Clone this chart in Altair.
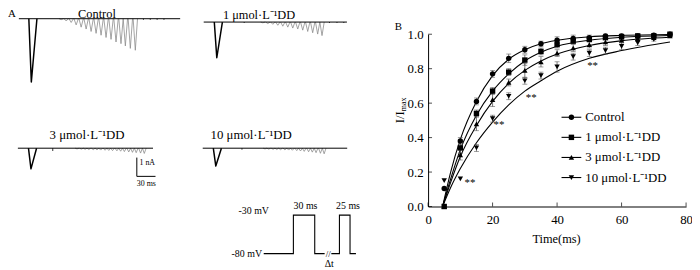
import altair as alt
import pandas as pd

FONT = "Liberation Serif"
W, H = 700, 270
PAD = -8          # cancels the page margin so chart pixels = figure pixels
GRAY = "#8c8c8c"

# ---------------- Panel B: recovery curves ----------------
SERIES = ["Control", "1 μmol·L⁻¹DD", "3 μmol·L⁻¹DD", "10 μmol·L⁻¹DD"]
SHAPES = ["circle", "square", "triangle-up", "triangle-down"]
T_PTS = [5, 10, 15, 20, 25, 30, 35, 40, 45, 50, 55, 60, 65, 70, 75]
V_CTRL = [0.105, 0.38, 0.61, 0.77, 0.86, 0.91, 0.945, 0.965, 0.975, 0.98, 0.99, 0.99, 0.99, 0.995, 1.0]
V_DD1 = [0.0, 0.34, 0.54, 0.67, 0.78, 0.85, 0.90, 0.94, 0.96, 0.97, 0.98, 0.985, 0.99, 0.99, 1.0]
V_DD3 = [0.0, 0.30, 0.48, 0.62, 0.72, 0.79, 0.84, 0.89, 0.92, 0.94, 0.955, 0.965, 0.975, 0.98, 0.99]
V_DD10 = [0.15, 0.16, 0.34, 0.51, 0.64, 0.73, 0.76, 0.81, 0.87, 0.89, 0.905, 0.93, 0.95, 0.97, None]
E_CTRL = [0, 0.02, 0.02, 0.02, 0.025, 0.02, 0.015, 0.02, 0.02, 0.015, 0.01, 0.01, 0.01, 0, 0]
E_DD1 = [0, 0.03, 0.02, 0.02, 0.02, 0.03, 0.02, 0.02, 0.015, 0.015, 0.01, 0.015, 0.01, 0.01, 0]
E_DD3 = [0, 0.03, 0.04, 0.04, 0.02, 0.04, 0.03, 0.02, 0.02, 0.02, 0.02, 0.015, 0.015, 0.01, 0.01]
E_DD10 = [0, 0, 0.02, 0.02, 0.02, 0.02, 0.02, 0.03, 0.02, 0.02, 0.02, 0.02, 0.015, 0.01, None]

T_FIT = [4.5, 7, 10, 15, 20, 25, 30, 35, 40, 50, 60, 75]
F_CTRL = [0, 0.20, 0.39, 0.61, 0.76, 0.855, 0.91, 0.945, 0.965, 0.985, 0.993, 0.998]
F_DD1 = [0, 0.16, 0.33, 0.53, 0.67, 0.77, 0.845, 0.895, 0.93, 0.965, 0.982, 0.993]
F_DD3 = [0, 0.14, 0.29, 0.47, 0.61, 0.715, 0.79, 0.845, 0.885, 0.935, 0.962, 0.982]
F_DD10 = [0, 0.11, 0.22, 0.37, 0.49, 0.59, 0.67, 0.73, 0.785, 0.86, 0.905, 0.955]

STAR_T = [13, 22, 32, 51]
STAR_V = [0.155, 0.49, 0.645, 0.83]

X_TICKS = [0, 20, 40, 60, 80]
Y_TICKS = [0.0, 0.2, 0.4, 0.6, 0.8, 1.0]

# ---------------- Panel A: current traces (ms, nA) ----------------
C_MAIN = (20, 3.37)
C_GRAY_T = [68, 76, 84, 92, 100, 108, 116, 124, 132, 140, 148, 156, 164, 171, 179, 187]
C_GRAY_A = [0.05, 0.12, 0.2, 0.33, 0.45, 0.55, 0.68, 0.78, 0.88, 1.0, 1.1, 1.24, 1.33, 1.45, 1.58, 1.68]
C_TICK_T = [200, 211, 222, 233]
C_TICK_A = [0.06, 0.06, 0.06, 0.06]
C_END = 259

D1_MAIN = (21, 1.9)
D1_GRAY_T = [95, 103, 111, 119, 127, 135, 143, 151, 159, 167, 175, 183, 190]
D1_GRAY_A = [0.04, 0.08, 0.12, 0.17, 0.22, 0.27, 0.32, 0.37, 0.43, 0.5, 0.57, 0.64, 0.72]
D1_TICK_T = [65, 202, 214, 225]
D1_TICK_A = [0.05, 0.05, 0.05, 0.05]
D1_END = 230

D3_MAIN = (21, 1.1)
D3_GRAY_T = [95, 102, 108, 114, 121, 127, 133, 140, 146, 152, 159, 165, 171, 178, 184, 190, 197, 203]
D3_GRAY_A = [0.04, 0.05, 0.06, 0.07, 0.08, 0.09, 0.1, 0.11, 0.12, 0.13, 0.14, 0.16, 0.18, 0.2, 0.22, 0.24, 0.26, 0.28]
D3_TICK_T = [56]
D3_TICK_A = [0.15]
D3_END = 217

D10_MAIN = (21, 0.95)
D10_GRAY_T = [100, 106, 113, 119, 125, 132, 138, 144, 151, 157, 163, 170, 176, 182, 189, 195]
D10_GRAY_A = [0.04, 0.05, 0.06, 0.07, 0.08, 0.09, 0.1, 0.11, 0.13, 0.15, 0.17, 0.19, 0.21, 0.24, 0.27, 0.3]
D10_TICK_T = [63]
D10_TICK_A = [0.08]
D10_END = 232

SCALEBAR_T = [191, 191, 221]      # 30 ms
SCALEBAR_I = [-0.5, -1.5, -1.5]   # 1 nA

PROTO_T = [0, 41.7, 41.7, 71.7, 71.7, 85.6, 95, 106.4, 106.4, 121.3, 121.3, 129.6]
PROTO_V = [-80, -80, -30, -30, -80, -80, -80, -80, -30, -30, -80, -80]
PROTO_SEG = [0, 0, 0, 0, 0, 0, 1, 1, 1, 1, 1, 1]

PX_MS = 0.63
PX_NA = 19.0

layers = []


def text(txt, x, y, size=13, align="center", angle=0, baseline="middle", font=FONT):
    return alt.Chart(pd.DataFrame({"s": [txt]})).mark_text(
        font=font, fontSize=size, align=align, baseline=baseline, angle=angle, color="black", fill="black"
    ).encode(text="s:N", x=alt.value(x), y=alt.value(y))


# ---- Panel A traces ----
def trace_rows(main, gray_t, gray_a, tick_t, tick_a, end, half):
    rows = []

    def seg(name, pts, col, w):
        for k, (t, i) in enumerate(pts):
            rows.append(dict(seg=name, k=k, t=t, i=i, col=col, w=w))

    for n, (t, a) in enumerate(zip(gray_t, gray_a)):
        seg(f"g{n:02d}", [(t - half, 0), (t, -a), (t + half, 0)], GRAY, 0.8)
    for n, (t, a) in enumerate(zip(tick_t, tick_a)):
        seg(f"k{n:02d}", [(t, 0), (t, -a)], "black", 0.8)
    seg("zbase", [(0, 0), (end, 0)], "black", 1.0)
    mt, ma = main
    seg("zmain", [(mt - 4, 0), (mt, -ma), (mt + 9, 0)], "black", 1.5)
    return pd.DataFrame(rows)


def trace_chart(df, x0, y0, end):
    xs = alt.Scale(domain=[0, end], range=[x0, x0 + end * PX_MS], nice=False, zero=False)
    ys = alt.Scale(domain=[-1, 0], range=[y0 + PX_NA, y0], nice=False, zero=False)
    return alt.Chart(df).mark_line(strokeJoin="round").encode(
        x=alt.X("t:Q", scale=xs, axis=None),
        y=alt.Y("i:Q", scale=ys, axis=None),
        detail="seg:N",
        order="k:Q",
        color=alt.Color("col:N", scale=None),
        strokeWidth=alt.StrokeWidth("w:Q", scale=None),
    ), xs, ys


ch, _, _ = trace_chart(trace_rows(C_MAIN, C_GRAY_T, C_GRAY_A, C_TICK_T, C_TICK_A, C_END, 3.5), 19, 17.3, C_END)
layers.append(ch)
ch, _, _ = trace_chart(trace_rows(D1_MAIN, D1_GRAY_T, D1_GRAY_A, D1_TICK_T, D1_TICK_A, D1_END, 3.5), 206, 20.7, D1_END)
layers.append(ch)
ch, xs3, ys3 = trace_chart(trace_rows(D3_MAIN, D3_GRAY_T, D3_GRAY_A, D3_TICK_T, D3_TICK_A, D3_END, 3.0), 18, 148.3, D3_END)
layers.append(ch)
ch, _, _ = trace_chart(trace_rows(D10_MAIN, D10_GRAY_T, D10_GRAY_A, D10_TICK_T, D10_TICK_A, D10_END, 3.0), 205, 148.3, D10_END)
layers.append(ch)

# scale bar drawn in the 3 µmol trace's own units
sb = pd.DataFrame({"t": SCALEBAR_T, "i": SCALEBAR_I, "k": [0, 1, 2]})
layers.append(alt.Chart(sb).mark_line(color="black", strokeWidth=1).encode(
    x=alt.X("t:Q", scale=xs3, axis=None), y=alt.Y("i:Q", scale=ys3, axis=None), order="k:Q"))

# voltage protocol
pr = pd.DataFrame({"t": PROTO_T, "v": PROTO_V, "seg": PROTO_SEG, "k": list(range(len(PROTO_T)))})
layers.append(alt.Chart(pr).mark_line(color="black", strokeWidth=1.1).encode(
    x=alt.X("t:Q", scale=alt.Scale(domain=[0, 100], range=[266.7, 338.7], nice=False, zero=False), axis=None),
    y=alt.Y("v:Q", scale=alt.Scale(domain=[-80, -30], range=[255, 216], nice=False, zero=False), axis=None),
    detail="seg:N", order="k:Q"))

layers += [
    text("A", 8, 13, 11, align="left"),
    text("Control", 98, 16.5, 12.5, baseline="alphabetic"),
    text("1 μmol·L⁻¹DD", 262, 18, 12.5, baseline="alphabetic"),
    text("3 μmol·L⁻¹DD", 88, 135, 13),
    text("10 μmol·L⁻¹DD", 254, 135, 13),
    text("1 nA", 141, 163, 8, align="left"),
    text("30 ms", 148, 185, 8),
    text("-30 mV", 272, 212, 10, align="right"),
    text("-80 mV", 265, 255, 10, align="right"),
    text("30 ms", 309, 207, 10),
    text("25 ms", 352, 207, 10),
    text("//", 332, 255, 9),
    text("Δt", 333, 265, 10),
]

# ---- Panel B ----
XB = alt.Scale(domain=[0, 80], range=[433, 694], nice=False, zero=False)
YB = alt.Scale(domain=[0, 1], range=[207.3, 33], nice=False, zero=False)

AX_X = alt.Axis(orient="bottom", offset=207.3 - H, values=X_TICKS, format="d", ticks=False, tickSize=0,
                labelPadding=7, domainColor="black", domainWidth=1, labelColor="black", labelFont=FONT,
                labelFontSize=13, labelFlush=False, labelOverlap=False, title=None, grid=False)
AX_Y = alt.Axis(orient="left", offset=-433, values=Y_TICKS, format=".1f", ticks=False, tickSize=0,
                labelPadding=5, domainColor="black", domainWidth=1, labelColor="black", labelFont=FONT,
                labelFontSize=13, labelFlush=False, labelOverlap=False, title=None, grid=False)

fit = pd.concat([
    pd.DataFrame({"series": s, "t": T_FIT, "v": v})
    for s, v in zip(SERIES, [F_CTRL, F_DD1, F_DD3, F_DD10])
])
pts = pd.concat([
    pd.DataFrame({"series": s, "t": T_PTS, "v": v, "e": e})
    for s, v, e in zip(SERIES, [V_CTRL, V_DD1, V_DD3, V_DD10], [E_CTRL, E_DD1, E_DD3, E_DD10])
]).dropna()
pts["lo"] = pts["v"] - pts["e"]
pts["hi"] = pts["v"] + pts["e"]
err = pts[pts["e"] > 0]

layers.append(alt.Chart(fit).mark_line(color="black", strokeWidth=1.1, interpolate="monotone").encode(
    x=alt.X("t:Q", scale=XB, axis=AX_X), y=alt.Y("v:Q", scale=YB, axis=AX_Y), detail="series:N"))

layers.append(alt.Chart(err).mark_rule(color="#555555", strokeWidth=0.8).encode(
    x=alt.X("t:Q", scale=XB, axis=None), y=alt.Y("lo:Q", scale=YB, axis=None), y2="hi:Q"))
for col in ["lo", "hi"]:
    layers.append(alt.Chart(err).mark_tick(orient="horizontal", size=5, thickness=0.8, color="#555555").encode(
        x=alt.X("t:Q", scale=XB, axis=None), y=alt.Y(f"{col}:Q", scale=YB, axis=None)))

layers.append(alt.Chart(pts).mark_point(filled=True, size=30, color="black", opacity=1).encode(
    x=alt.X("t:Q", scale=XB, axis=None), y=alt.Y("v:Q", scale=YB, axis=None),
    shape=alt.Shape("series:N", scale=alt.Scale(domain=SERIES, range=SHAPES), legend=None)))

stars = pd.DataFrame({"t": STAR_T, "v": STAR_V, "s": ["**"] * len(STAR_T)})
layers.append(alt.Chart(stars).mark_text(font=FONT, fontSize=11, color="black", fill="black", dy=3).encode(
    x=alt.X("t:Q", scale=XB, axis=None), y=alt.Y("v:Q", scale=YB, axis=None), text="s:N"))

# inward axis ticks
xt = pd.DataFrame({"t": X_TICKS, "z": [0] * len(X_TICKS)})
layers.append(alt.Chart(xt).mark_tick(orient="vertical", size=4, thickness=1, color="black", yOffset=-2).encode(
    x=alt.X("t:Q", scale=XB, axis=None), y=alt.Y("z:Q", scale=YB, axis=None)))
yt = pd.DataFrame({"v": Y_TICKS, "z": [0] * len(Y_TICKS)})
layers.append(alt.Chart(yt).mark_tick(orient="horizontal", size=4, thickness=1, color="black", xOffset=2).encode(
    x=alt.X("z:Q", scale=XB, axis=None), y=alt.Y("v:Q", scale=YB, axis=None)))

# legend: line-through markers with labels
leg = pd.DataFrame({"series": SERIES})
LEG_Y = alt.Y("series:N", scale=alt.Scale(type="point", domain=SERIES, range=[117, 178], padding=0), axis=None)
layers.append(alt.Chart(leg).mark_rule(color="black", strokeWidth=1.1).encode(
    x=alt.value(568), x2=alt.value(588), y=LEG_Y))
layers.append(alt.Chart(leg).mark_point(filled=True, size=30, color="black", opacity=1).encode(
    x=alt.value(578), y=LEG_Y,
    shape=alt.Shape("series:N", scale=alt.Scale(domain=SERIES, range=SHAPES), legend=None)))
layers.append(alt.Chart(leg).mark_text(font=FONT, fontSize=13, align="left", baseline="middle",
                                       color="black", fill="black").encode(
    x=alt.value(592), y=LEG_Y, text="series:N"))

layers += [
    text("B", 403, 26, 11),
    text("I/I", 405, 117, 13, angle=270),
    text("max", 409, 104, 8, angle=270),
    text("Time(ms)", 563, 240, 12.5),
]

chart = alt.layer(*layers).resolve_scale(
    x="independent", y="independent", shape="independent", color="independent", strokeWidth="independent"
).properties(
    width=W, height=H, padding={"left": PAD, "top": PAD, "right": 0, "bottom": 0},
    autosize=alt.AutoSizeParams(type="none"), background="white"
).configure_view(stroke=None).configure_axis(grid=False)

chart.save("out.html", embed_options={"renderer": "svg", "actions": False})
